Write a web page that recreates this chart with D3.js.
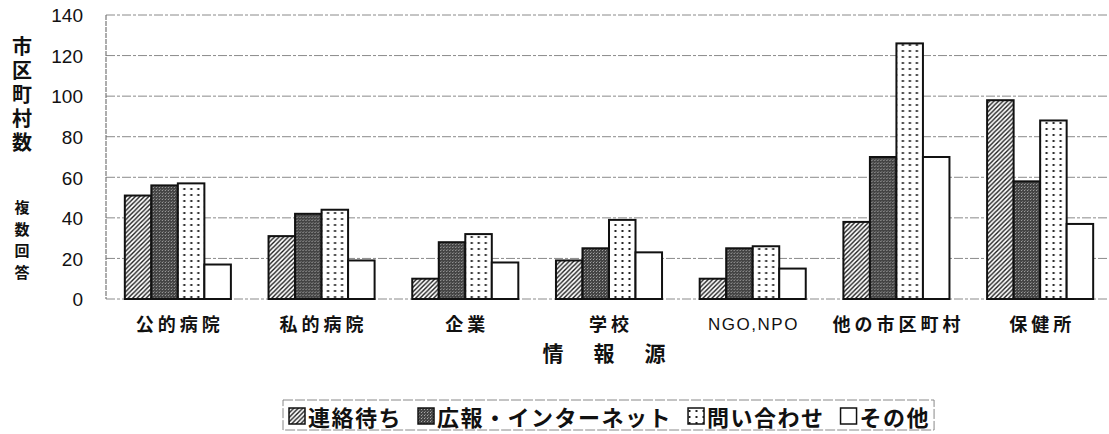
<!DOCTYPE html>
<html><head><meta charset="utf-8">
<script src="https://cdn.jsdelivr.net/npm/d3@7"></script>
<style>
body{margin:0;background:#fff;}
svg{display:block;}
text{font-family:"Liberation Sans","Noto Sans CJK JP",sans-serif;fill:#111;}
.cjk{font-family:"Noto Sans CJK JP","Liberation Sans",sans-serif;}
</style></head>
<body>
<svg id="chart" width="1109" height="434"></svg>
<script>
const categories = ["公的病院","私的病院","企業","学校","NGO,NPO","他の市区町村","保健所"];
const seriesNames = ["連絡待ち","広報・インターネット","問い合わせ","その他"];
const renraku  = [51,31,10,19,10,38,98];
const kouhou   = [56,42,28,25,25,70,58];
const toiawase = [57,44,32,39,26,126,88];
const sonota   = [17,19,18,23,15,70,37];
const yTicks = [0,20,40,60,80,100,120,140];
const yTitle1 = "市区町村数";
const yTitle2 = "複数回答";
const xTitle = "情報源";

const seriesValues = [renraku,kouhou,toiawase,sonota];
const fills = ["url(#hatch)","url(#dark)","url(#dots)","#ffffff"];

const svg = d3.select("#chart");
const defs = svg.append("defs");
// hatch
const ph = defs.append("pattern").attr("id","hatch").attr("patternUnits","userSpaceOnUse")
  .attr("width",4.5).attr("height",4.5);
ph.append("rect").attr("width",4.5).attr("height",4.5).attr("fill","#fff");
ph.append("path").attr("d","M-1,5.5 L5.5,-1 M-1,1 L1,-1 M3.5,5.5 L5.5,3.5")
  .attr("stroke","#1a1a1a").attr("stroke-width",1.4);
// dark dither
const pd = defs.append("pattern").attr("id","dark").attr("patternUnits","userSpaceOnUse")
  .attr("width",3).attr("height",3);
pd.append("rect").attr("width",3).attr("height",3).attr("fill","#444");
pd.append("rect").attr("x",1).attr("y",1).attr("width",1).attr("height",1).attr("fill","#a8a8a8");
pd.append("rect").attr("x",2).attr("y",0).attr("width",1).attr("height",1).attr("fill","#777");
// dots
const pp = defs.append("pattern").attr("id","dots").attr("patternUnits","userSpaceOnUse")
  .attr("width",7).attr("height",6);
pp.append("rect").attr("width",7).attr("height",6).attr("fill","#fff");
pp.append("rect").attr("x",2.5).attr("y",2).attr("width",2).attr("height",2).attr("fill","#222");

const x0 = d3.scaleBand().domain(categories).range([106,1112]).paddingInner(0.262).paddingOuter(0.131);
const x1 = d3.scaleBand().domain(seriesNames).range([0,x0.bandwidth()]);
const y = d3.scaleLinear().domain([0,140]).range([299,15]);

// grid
svg.append("g").selectAll("line").data(yTicks).join("line")
  .attr("x1",106).attr("x2",1109).attr("y1",d=>y(d)).attr("y2",d=>y(d))
  .attr("stroke","#8a8a8a").attr("stroke-width",1).attr("stroke-dasharray","9,2,3,2");
svg.append("line").attr("x1",106).attr("x2",106).attr("y1",y(140)).attr("y2",y(0))
  .attr("stroke","#777").attr("stroke-width",1.2).attr("stroke-dasharray","5,1");

// y axis labels
const yAxis = d3.axisLeft(y).tickValues(yTicks).tickSize(0).tickPadding(0);
const ya = svg.append("g").attr("transform","translate(83,0)").call(yAxis);
ya.select(".domain").remove();
ya.selectAll("text").attr("font-size",19).attr("font-family","Liberation Sans, Arial, sans-serif")
  .attr("fill","#111").attr("dy","0.36em");

// bars
const groups = svg.append("g").selectAll("g").data(categories).join("g")
  .attr("transform",d=>`translate(${x0(d)},0)`);
groups.selectAll("rect").data((c,i)=>seriesNames.map((s,j)=>({s,j,v:seriesValues[j][i]}))).join("rect")
  .attr("x",d=>x1(d.s)).attr("width",x1.bandwidth())
  .attr("y",d=>y(d.v)).attr("height",d=>y(0)-y(d.v))
  .attr("fill",d=>fills[d.j]).attr("stroke","#111").attr("stroke-width",2);

// x axis labels
const xAxis = d3.axisBottom(x0).tickSize(0).tickPadding(0);
const xa = svg.append("g").attr("transform","translate(0,317)").call(xAxis);
xa.select(".domain").remove();
xa.selectAll("text")
  .attr("font-size",d=>/^[A-Za-z]/.test(d)?17:18)
  .attr("font-weight",d=>/^[A-Za-z]/.test(d)?"normal":"bold")
  .attr("font-family",d=>/^[A-Za-z]/.test(d)?"Liberation Sans, Arial, sans-serif":"Noto Sans CJK JP, Liberation Sans, sans-serif")
  .attr("fill","#111")
  .attr("letter-spacing",d=>/^[A-Za-z]/.test(d)?"1.5px":"4px")
  .attr("dx",d=>/^[A-Za-z]/.test(d)?"0.75px":"2px")
  .attr("dy","0.75em");

// x title
svg.append("g").selectAll("text").data(Array.from(xTitle)).join("text")
  .attr("class","cjk").attr("x",(d,i)=>553+i*51).attr("y",352).attr("text-anchor","middle")
  .attr("dominant-baseline","central").attr("font-size",21).attr("font-weight","bold").text(d=>d);

// y titles (vertical writing)
svg.append("text").attr("class","cjk").attr("x",22).attr("y",36)
  .attr("writing-mode","vertical-rl").attr("font-size",20).attr("font-weight","bold")
  .attr("letter-spacing","4px").text(yTitle1);
svg.append("text").attr("class","cjk").attr("x",22).attr("y",200)
  .attr("writing-mode","vertical-rl").attr("font-size",15).attr("font-weight","bold")
  .attr("letter-spacing","6.5px").text(yTitle2);

// legend
const lg = svg.append("g");
const box = lg.append("rect").attr("fill","none").attr("stroke","#888").attr("stroke-width",1)
  .attr("stroke-dasharray","10,2");
let cx = 289;
const sw = 16;
seriesNames.forEach((s,j)=>{
  lg.append("rect").attr("x",cx).attr("y",416-sw/2).attr("width",sw).attr("height",sw)
    .attr("fill",fills[j]).attr("stroke","#111").attr("stroke-width",1.5);
  const t = lg.append("text").attr("class","cjk").attr("x",cx+sw+3).attr("y",416)
    .attr("dominant-baseline","central").attr("font-size",22).attr("font-weight","bold")
    .attr("letter-spacing","1.5px").text(s);
  cx += sw + 3 + t.node().getComputedTextLength() + 16;
});
box.attr("x",283).attr("y",400).attr("width",cx-16+4-283).attr("height",30);
</script>
</body></html>
